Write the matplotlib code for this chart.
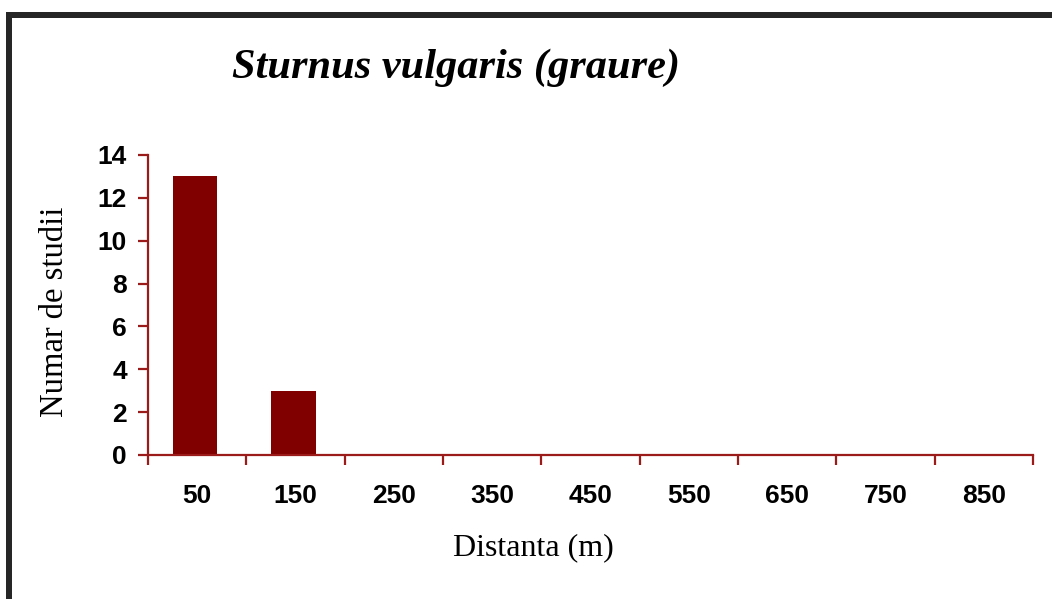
import numpy as np
import matplotlib
matplotlib.use("Agg")
import matplotlib.pyplot as plt
from matplotlib.lines import Line2D

# distances (m) et nombre d'études
distances = ["50", "150", "250", "350", "450", "550", "650", "750", "850"]
studii = [13, 3, 0, 0, 0, 0, 0, 0, 0]
y_ticks = [0, 2, 4, 6, 8, 10, 12, 14]

bar_color = "#800000"
axis_color = "#9b1b1b"

W, H = 1052, 599
fig = plt.figure(figsize=(W / 100, H / 100), dpi=100)
fig.patch.set_facecolor("white")

ax = fig.add_axes([148 / W, 1 - 455 / H, (1033 - 148) / W, 300 / H])
x = np.arange(len(distances))
ax.bar(x - 0.02, studii, width=0.45, color=bar_color, zorder=2)

ax.set_xlim(-0.5, len(distances) - 0.5)
ax.set_ylim(0, 14)
ax.set_yticks(y_ticks)
ax.set_xticks(x)
ax.set_xticklabels(distances)
ax.set_xticks(np.arange(len(distances) + 1) - 0.5, minor=True)

for s in ["top", "right"]:
    ax.spines[s].set_visible(False)
for s in ["left", "bottom"]:
    ax.spines[s].set_color(axis_color)
    ax.spines[s].set_linewidth(1.6)

tick_font = dict(family="Liberation Sans", weight="bold", size=19)
ax.tick_params(axis="y", direction="out", length=7.2, width=1.6, color=axis_color, pad=8)
ax.tick_params(axis="x", which="major", length=0, pad=21)
ax.tick_params(axis="x", which="minor", direction="out", length=7.2, width=1.6, color=axis_color)
for lbl in ax.get_xticklabels() + ax.get_yticklabels():
    lbl.set_fontproperties(matplotlib.font_manager.FontProperties(**tick_font))

# titre et légendes des axes
fig.text(456 / W, 1 - 68 / H, "Sturnus vulgaris (graure)", ha="center", va="center",
         family="Liberation Serif", style="italic", weight="bold", size=30.5)
fig.text(55 / W, 1 - 312 / H, "Numar de studii", ha="center", va="center", rotation=90,
         family="Liberation Serif", size=23.5)
fig.text(533 / W, 1 - 548 / H, "Distanta (m)", ha="center", va="center",
         family="Liberation Serif", size=23)

# cadre sombre en haut et à gauche
frame_w = 6 * 72 / 100
fig.add_artist(Line2D([6 / W, 1], [1 - 15 / H, 1 - 15 / H], transform=fig.transFigure,
                      color="#262626", linewidth=frame_w, solid_capstyle="butt"))
fig.add_artist(Line2D([9 / W, 9 / W], [1 - 12 / H, 0], transform=fig.transFigure,
                      color="#262626", linewidth=frame_w, solid_capstyle="butt"))

fig.savefig("out.png", dpi=100)
